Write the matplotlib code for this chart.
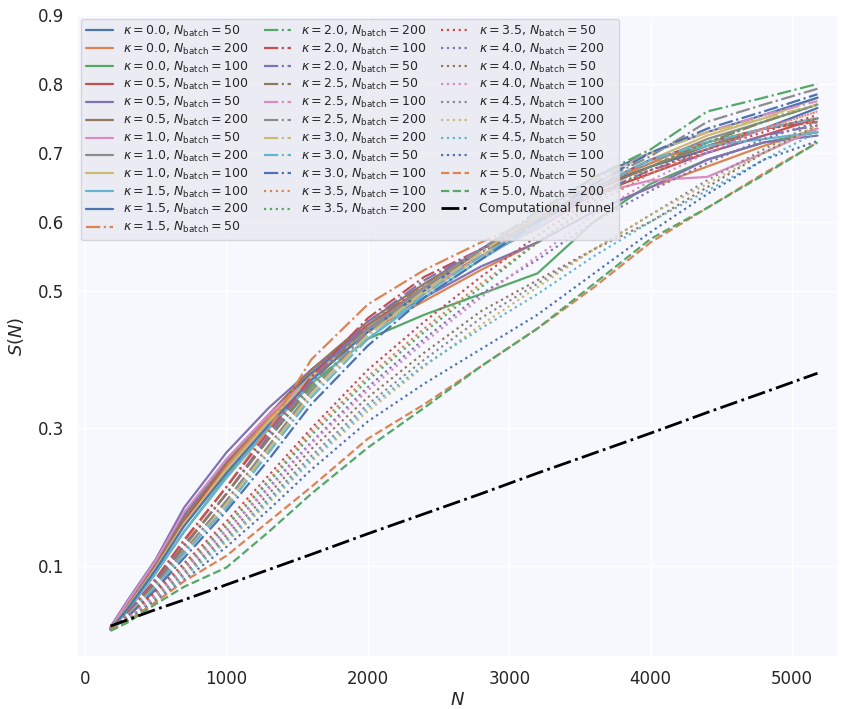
import matplotlib
matplotlib.use('Agg')
from matplotlib import pyplot as plt
import seaborn as sns

# sample sizes shared by every curve
N_grid = [180, 300, 500, 700, 1000, 1300, 1600, 2000, 2400, 2800, 3200, 3600, 4000, 4400, 4800, 5180]

kappas = [0.0, 0.0, 0.0, 0.5, 0.5, 0.5, 1.0, 1.0, 1.0, 1.5, 1.5, 1.5,
          2.0, 2.0, 2.0, 2.5, 2.5, 2.5, 3.0, 3.0, 3.0, 3.5, 3.5, 3.5,
          4.0, 4.0, 4.0, 4.5, 4.5, 4.5, 5.0, 5.0, 5.0]
batches = [50, 200, 100, 100, 50, 200, 50, 200, 100, 100, 200, 50,
           200, 100, 50, 50, 100, 200, 200, 50, 100, 100, 200, 50,
           200, 50, 100, 100, 200, 50, 100, 50, 200]
styles = ['-'] * 11 + ['-.'] * 10 + [':'] * 10 + ['--'] * 2

S_vals = [
    [0.010, 0.045, 0.105, 0.175, 0.255, 0.320, 0.380, 0.445, 0.500, 0.560, 0.600, 0.650, 0.680, 0.705, 0.735, 0.765],
    [0.008, 0.040, 0.100, 0.165, 0.245, 0.315, 0.375, 0.440, 0.485, 0.530, 0.570, 0.615, 0.650, 0.680, 0.710, 0.735],
    [0.008, 0.035, 0.090, 0.150, 0.230, 0.300, 0.365, 0.430, 0.465, 0.495, 0.525, 0.600, 0.655, 0.690, 0.715, 0.730],
    [0.010, 0.042, 0.100, 0.165, 0.250, 0.320, 0.385, 0.450, 0.505, 0.550, 0.590, 0.640, 0.670, 0.700, 0.725, 0.750],
    [0.012, 0.050, 0.110, 0.185, 0.265, 0.330, 0.385, 0.445, 0.490, 0.535, 0.570, 0.615, 0.650, 0.690, 0.715, 0.725],
    [0.010, 0.045, 0.105, 0.170, 0.250, 0.320, 0.385, 0.455, 0.510, 0.560, 0.600, 0.645, 0.680, 0.710, 0.735, 0.750],
    [0.010, 0.048, 0.108, 0.178, 0.255, 0.320, 0.375, 0.440, 0.500, 0.550, 0.590, 0.640, 0.660, 0.665, 0.700, 0.735],
    [0.008, 0.040, 0.098, 0.160, 0.240, 0.310, 0.375, 0.445, 0.505, 0.560, 0.605, 0.650, 0.685, 0.720, 0.745, 0.770],
    [0.008, 0.040, 0.098, 0.162, 0.240, 0.310, 0.375, 0.440, 0.495, 0.550, 0.600, 0.650, 0.690, 0.725, 0.750, 0.780],
    [0.008, 0.035, 0.090, 0.150, 0.228, 0.300, 0.365, 0.430, 0.490, 0.545, 0.595, 0.650, 0.690, 0.710, 0.720, 0.730],
    [0.008, 0.038, 0.095, 0.158, 0.235, 0.305, 0.370, 0.440, 0.500, 0.560, 0.610, 0.665, 0.700, 0.730, 0.755, 0.780],
    [0.008, 0.030, 0.080, 0.135, 0.215, 0.300, 0.400, 0.480, 0.530, 0.570, 0.605, 0.650, 0.685, 0.715, 0.735, 0.745],
    [0.008, 0.030, 0.078, 0.130, 0.205, 0.285, 0.360, 0.440, 0.500, 0.560, 0.615, 0.665, 0.705, 0.760, 0.780, 0.800],
    [0.008, 0.032, 0.082, 0.138, 0.215, 0.295, 0.375, 0.460, 0.520, 0.560, 0.600, 0.650, 0.690, 0.715, 0.735, 0.745],
    [0.008, 0.030, 0.078, 0.130, 0.205, 0.290, 0.370, 0.455, 0.515, 0.560, 0.600, 0.640, 0.675, 0.700, 0.725, 0.740],
    [0.008, 0.030, 0.075, 0.128, 0.205, 0.285, 0.365, 0.450, 0.510, 0.555, 0.600, 0.645, 0.680, 0.715, 0.745, 0.770],
    [0.008, 0.028, 0.072, 0.122, 0.195, 0.275, 0.355, 0.440, 0.505, 0.560, 0.610, 0.660, 0.700, 0.730, 0.755, 0.775],
    [0.008, 0.028, 0.072, 0.122, 0.195, 0.275, 0.355, 0.440, 0.505, 0.560, 0.610, 0.655, 0.695, 0.745, 0.770, 0.793],
    [0.008, 0.028, 0.070, 0.118, 0.190, 0.270, 0.350, 0.435, 0.500, 0.555, 0.610, 0.660, 0.700, 0.730, 0.750, 0.770],
    [0.008, 0.028, 0.070, 0.118, 0.185, 0.265, 0.345, 0.430, 0.495, 0.550, 0.600, 0.650, 0.690, 0.715, 0.735, 0.750],
    [0.008, 0.026, 0.066, 0.112, 0.180, 0.255, 0.335, 0.420, 0.490, 0.545, 0.600, 0.655, 0.700, 0.735, 0.760, 0.785],
    [0.008, 0.025, 0.062, 0.100, 0.160, 0.225, 0.295, 0.375, 0.445, 0.510, 0.570, 0.625, 0.670, 0.705, 0.735, 0.760],
    [0.008, 0.025, 0.060, 0.098, 0.158, 0.222, 0.290, 0.370, 0.440, 0.505, 0.570, 0.630, 0.680, 0.715, 0.745, 0.770],
    [0.008, 0.026, 0.064, 0.104, 0.165, 0.232, 0.300, 0.385, 0.455, 0.520, 0.580, 0.635, 0.675, 0.705, 0.730, 0.755],
    [0.008, 0.024, 0.058, 0.095, 0.152, 0.215, 0.280, 0.360, 0.430, 0.495, 0.545, 0.600, 0.645, 0.685, 0.720, 0.745],
    [0.008, 0.023, 0.055, 0.090, 0.145, 0.205, 0.270, 0.345, 0.410, 0.470, 0.515, 0.560, 0.600, 0.650, 0.700, 0.740],
    [0.008, 0.024, 0.058, 0.095, 0.150, 0.212, 0.278, 0.355, 0.425, 0.490, 0.550, 0.610, 0.660, 0.700, 0.735, 0.760],
    [0.008, 0.022, 0.053, 0.088, 0.140, 0.198, 0.260, 0.335, 0.400, 0.460, 0.510, 0.560, 0.610, 0.660, 0.705, 0.745],
    [0.008, 0.022, 0.052, 0.085, 0.135, 0.192, 0.252, 0.325, 0.390, 0.450, 0.505, 0.560, 0.610, 0.655, 0.700, 0.740],
    [0.008, 0.022, 0.052, 0.085, 0.138, 0.195, 0.255, 0.330, 0.392, 0.445, 0.495, 0.550, 0.600, 0.645, 0.690, 0.730],
    [0.008, 0.021, 0.050, 0.080, 0.128, 0.182, 0.240, 0.310, 0.365, 0.415, 0.465, 0.525, 0.585, 0.640, 0.690, 0.717],
    [0.008, 0.020, 0.048, 0.078, 0.115, 0.165, 0.215, 0.285, 0.335, 0.390, 0.445, 0.505, 0.570, 0.620, 0.670, 0.715],
    [0.006, 0.018, 0.045, 0.070, 0.098, 0.150, 0.205, 0.272, 0.330, 0.390, 0.445, 0.510, 0.575, 0.620, 0.668, 0.715],
]

funnel = [0.013, 0.022, 0.037, 0.051, 0.073, 0.095, 0.117, 0.147, 0.176, 0.205, 0.235, 0.264, 0.293, 0.323, 0.352, 0.380]

yticks = [0.1, 0.3, 0.5, 0.6, 0.7, 0.8, 0.9]
xticks = [0, 1000, 2000, 3000, 4000, 5000]

sns.set_theme(style='darkgrid')
plt.rcParams['axes.facecolor'] = '#F7F8FE'
palette = sns.color_palette('deep', 10)

fig = plt.figure(figsize=(8.41, 7.09), dpi=100)
ax = fig.add_axes([0.0916, 0.0733, 0.9048, 0.9055])

for i in range(len(S_vals)):
    lab = r'$\kappa = %.1f$, $N_{\rm batch} = %d$' % (kappas[i], batches[i])
    ax.plot(N_grid, S_vals[i], styles[i], color=palette[i % 10], lw=1.6, label=lab)
ax.plot(N_grid, funnel, '-.', color='black', lw=2, label='Computational funnel')

ax.set_xlim(-57, 5325)
ax.set_ylim(-0.032, 0.9)
ax.set_xticks(xticks)
ax.set_yticks(yticks)
ax.tick_params(labelsize=12)
ax.set_xlabel('$N$', fontsize=13, labelpad=2)
ax.set_ylabel('$S(N)$', fontsize=13, labelpad=8)

leg = ax.legend(loc='upper left', ncol=3, fontsize=9, facecolor='#EAEAF2', framealpha=0.85,
                edgecolor='#CFCFD8', borderaxespad=0.3, columnspacing=1.2, handlelength=2.2,
                labelspacing=0.22)

plt.savefig('out.png', dpi=100)
